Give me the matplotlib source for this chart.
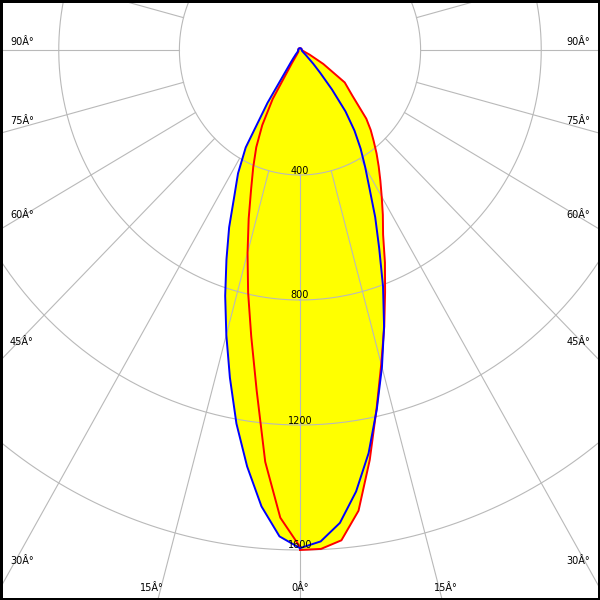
import numpy as np
import matplotlib
matplotlib.use('Agg')
import matplotlib.pyplot as plt

# gamma angle from nadir (deg) and luminous intensity (cd) of the two planes
gamma = [0, 2.5, 5, 7.5, 10, 12.5, 15, 17.5, 20, 22.5, 25, 27.5, 30, 32.5,
         35, 37.5, 40, 42.5, 45, 50, 55, 60, 65, 70, 80, 90, 120, 150, 180]
blue_right = [1594, 1574, 1519, 1425, 1310, 1177, 1050, 927, 805, 686, 590, 499,
              432, 374, 315, 248, 165, 99, 62, 25, 14, 10, 8, 7, 6, 6, 6, 6, 6]
blue_left = [1594, 1558, 1466, 1344, 1214, 1074, 944, 825, 713, 614, 515, 445,
             360, 200, 80, 50, 35, 25, 20, 12, 10, 8, 7, 6, 6, 6, 6, 6, 6]
red_right = [1600, 1598, 1575, 1487, 1332, 1174, 1041, 929, 825, 736, 652, 595,
             542, 496, 455, 417, 380, 347, 311, 226, 181, 89, 35, 15, 8, 6, 6, 6, 6]
red_left = [1590, 1498, 1323, 1100, 931, 795, 672, 566, 474, 405, 343, 271,
            181, 50, 20, 14, 10, 9, 8, 7, 6, 6, 6, 6, 6, 6, 6, 6, 6]

rings = [400, 800, 1200, 1600]
spokes = list(range(0, 360, 15))
side_angles = [90, 75, 60, 45, 30]
bottom_angles = [15, 0]

# layout of the original picture, in pixels
W, H = 600, 600
CX, CY = 300, 50
SY = 0.3125          # px per cd, vertical
SX = SY * 0.965      # px per cd, horizontal (picture is a bit squeezed)
side_y = {90: 42, 75: 121, 60: 215, 45: 342, 30: 561}
bottom_x = {15: 151.5, 0: 300}


def px(x, y):
    return (x - CX) / SX, (y - CY) / SY


def outline(right, left):
    g = np.radians(gamma)
    r = np.array(right, dtype=float)
    l = np.array(left, dtype=float)
    x = np.concatenate([r * np.sin(g), -(l * np.sin(g))[::-1]])
    y = np.concatenate([r * np.cos(g), (l * np.cos(g))[::-1]])
    return x, y


fig = plt.figure(figsize=(6, 6), dpi=100)
ax = fig.add_axes([0, 0, 1, 1])
ax.set_xlim(-CX / SX, (W - CX) / SX)
ax.set_ylim((H - CY) / SY, -CY / SY)
ax.set_xticks([])
ax.set_yticks([])
for s in ax.spines.values():
    s.set_color('black')
    s.set_linewidth(3.6)

grid_col = '#b9b9b9'
t = np.linspace(0, 2 * np.pi, 400)
for r in rings:
    ax.plot(r * np.sin(t), r * np.cos(t), color=grid_col, lw=0.8, zorder=2)
    lx, ly = px(CX, CY + r * SY - 4.5)
    ax.text(lx, ly, str(r), ha='center', va='center', fontsize=7, zorder=5)
for a in spokes:
    ar = np.radians(a)
    ax.plot([rings[0] * np.sin(ar), 5000 * np.sin(ar)],
            [rings[0] * np.cos(ar), 5000 * np.cos(ar)],
            color=grid_col, lw=0.8, zorder=2)

bx, by = outline(blue_right, blue_left)
rx, ry = outline(red_right, red_left)
ax.fill(bx, by, color='#ffff00', lw=0, zorder=1)
ax.fill(rx, ry, color='#ffff00', lw=0, zorder=1)
ax.plot(np.append(rx, rx[0]), np.append(ry, ry[0]), color='#ff0000', lw=1.4, zorder=3)
ax.plot(np.append(bx, bx[0]), np.append(by, by[0]), color='#0000ff', lw=1.4, zorder=4)

for a in side_angles:
    x0, y0 = px(10, side_y[a])
    ax.text(x0, y0, f'{a}Â°', ha='left', va='center', fontsize=7, zorder=5)
    x1, y1 = px(590, side_y[a])
    ax.text(x1, y1, f'{a}Â°', ha='right', va='center', fontsize=7, zorder=5)
for a in bottom_angles:
    x0, y0 = px(bottom_x[a], 588)
    ax.text(x0, y0, f'{a}Â°', ha='center', va='center', fontsize=7, zorder=5)
    if a:
        x1, y1 = px(W - bottom_x[a] - 2.5, 588)
        ax.text(x1, y1, f'{a}Â°', ha='center', va='center', fontsize=7, zorder=5)

fig.savefig('out.png', dpi=100)
